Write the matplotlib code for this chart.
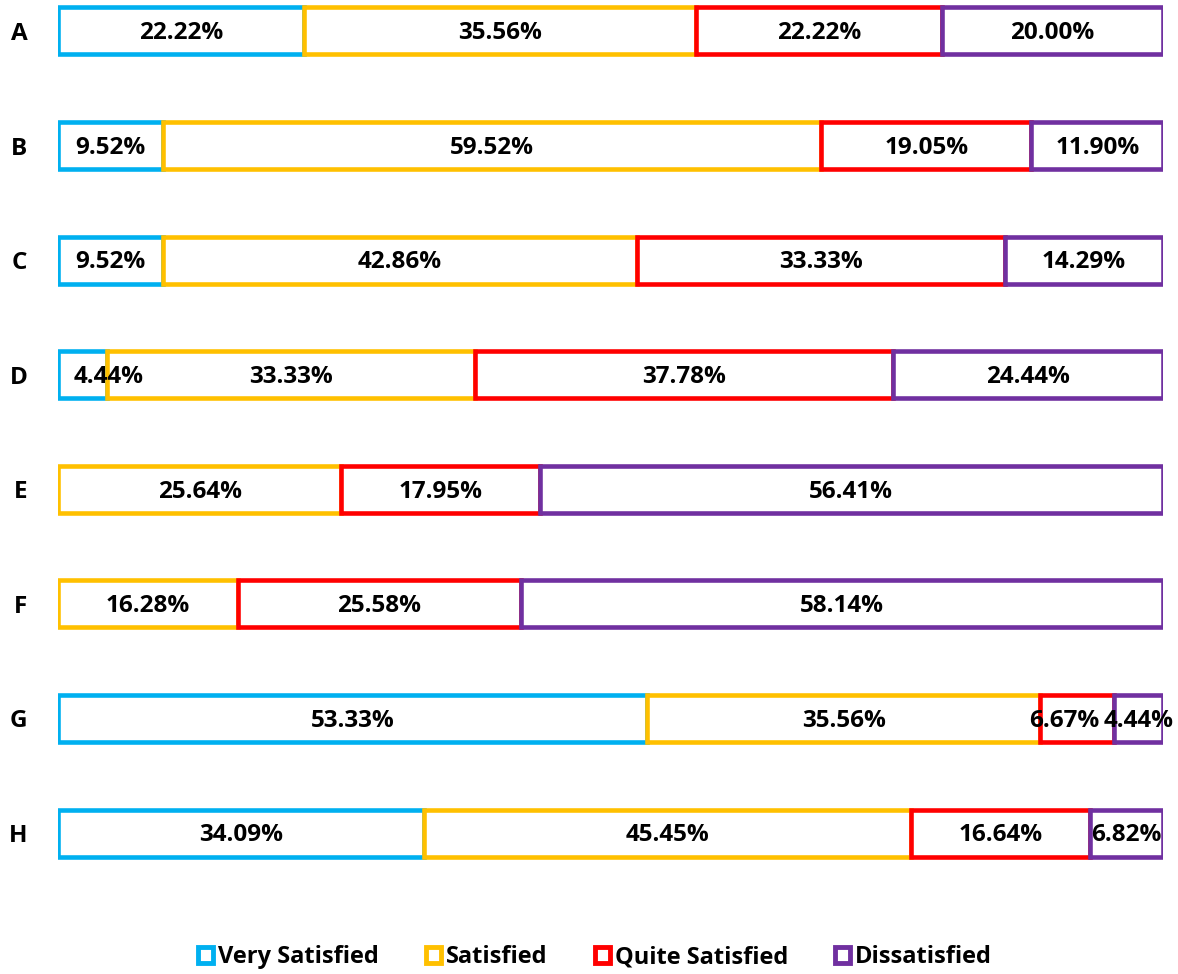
import matplotlib
matplotlib.use("Agg")
import matplotlib.pyplot as plt
from matplotlib.patches import Patch
from matplotlib.transforms import Affine2D

plt.rcParams['font.family'] = ['Open Sans', 'DejaVu Sans']

# data
groups = ["A", "B", "C", "D", "E", "F", "G", "H"]
categories = ["Very Satisfied", "Satisfied", "Quite Satisfied", "Dissatisfied"]
very_satisfied = [22.22, 9.52, 9.52, 4.44, 0, 0, 53.33, 34.09]
satisfied = [35.56, 59.52, 42.86, 33.33, 25.64, 16.28, 35.56, 45.45]
quite_satisfied = [22.22, 19.05, 33.33, 37.78, 17.95, 25.58, 6.67, 16.64]
dissatisfied = [20.00, 11.90, 14.29, 24.44, 56.41, 58.14, 4.44, 6.82]
colors = ["#00B0F0", "#FFC000", "#FF0000", "#7030A0"]

series = [very_satisfied, satisfied, quite_satisfied, dissatisfied]

fig = plt.figure(figsize=(11.78, 9.74), dpi=100)
ax = fig.add_axes([58 / 1178, 1 - 864 / 974, 1105 / 1178, 864 / 974])

# 100% stacked: normalise each row
totals = [sum(s[i] for s in series) for i in range(len(groups))]
left = [0.0] * len(groups)
row_labels = [[] for _ in groups]
for vals, col in zip(series, colors):
    for i, v in enumerate(vals):
        if v == 0:
            continue
        w = v / totals[i] * 100
        ax.barh(i, w, left=left[i], height=0.41, color="white",
                edgecolor=col, linewidth=3.3)
        t = ax.text(left[i] + w / 2, i + 0.02, f"{v:.2f}%", ha="center", va="center",
                    fontsize=17.5, fontweight="bold", color="black")
        row_labels[i].append(t)
        left[i] += w

ax.set_xlim(0, 100)
ax.set_ylim(7.27, -0.27)
ax.set_yticks(range(len(groups)))
ax.set_yticklabels(groups, fontsize=17.5, fontweight="bold")
ax.tick_params(axis="y", length=0, pad=22)
ax.set_xticks([])
for sp in ax.spines.values():
    sp.set_visible(False)

# nudge crowded labels like Excel does
fig.canvas.draw()
r = fig.canvas.get_renderer()
ax_x0 = ax.get_window_extent(r).x0
for labs in row_labels:
    e0 = labs[0].get_window_extent(r)
    if e0.x0 < ax_x0 + 16:
        labs[0].set_transform(labs[0].get_transform()
                              + Affine2D().translate(ax_x0 + 16 - e0.x0, 0))
    for a, b in zip(labs[-2::-1], labs[:0:-1]):
        ea, eb = a.get_window_extent(r), b.get_window_extent(r)
        over = ea.x1 + 4 - eb.x0
        if over > 0:
            a.set_transform(a.get_transform() + Affine2D().translate(-over, 0))

handles = [Patch(facecolor="white", edgecolor=c, linewidth=3.5, label=l)
           for c, l in zip(colors, categories)]
leg = fig.legend(handles=handles, loc="center", bbox_to_anchor=(0.505, 0.017),
                 ncol=4, frameon=False, handlelength=0.65, handleheight=0.7,
                 handletextpad=0.2, columnspacing=2.0,
                 prop={"size": 17, "weight": "bold"})

fig.savefig("out.png", dpi=100)
